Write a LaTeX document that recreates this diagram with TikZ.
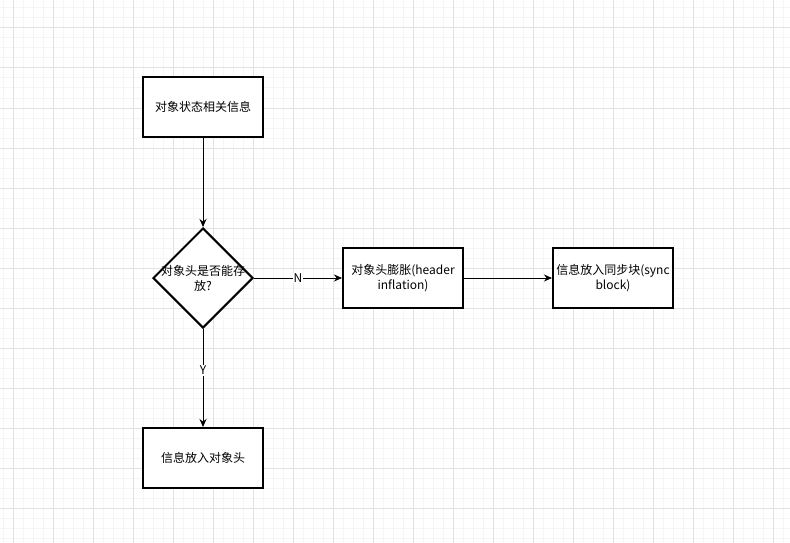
\documentclass[tikz,border=0pt]{standalone}
\usepackage{fontspec}
\setmainfont{Liberation Sans}
\newfontfamily\cjk{Noto Sans CJK SC}
\usetikzlibrary{shapes.geometric,arrows.meta}
\definecolor{gridminor}{HTML}{F5F5F5}
\definecolor{gridmajor}{HTML}{E2E2E2}
\tikzset{
  box/.style={draw=black, line width=2pt, fill=white, minimum width=120pt, minimum height=60pt, inner sep=2pt, align=center, font=\fontsize{12}{15}\selectfont\cjk, text width=116pt},
  decision/.style={draw=black, line width=2pt, fill=white, diamond, minimum width=100pt, minimum height=100pt, inner sep=0pt},
  dectext/.style={align=center, font=\fontsize{12}{15}\selectfont\cjk, inner sep=0pt},
  conn/.style={draw=black, line width=1pt, -{Stealth[length=8pt,width=7pt]}},
  lbl/.style={fill=white, inner sep=1pt, font=\fontsize{12}{14}\selectfont\cjk},
}
\begin{document}
\begin{tikzpicture}[x=1pt,y=-1pt]
\useasboundingbox (0,0) rectangle (790,543);
\fill[white] (0,0) rectangle (790,543);
\foreach \x in {3,13,...,783} \draw[gridminor, line width=1pt] (\x,0) -- (\x,543);
\foreach \y in {8,18,...,538} \draw[gridminor, line width=1pt] (0,\y) -- (790,\y);
\foreach \x in {13,53,...,773} \draw[gridmajor, line width=1pt] (\x,0) -- (\x,543);
\foreach \y in {28,68,...,508} \draw[gridmajor, line width=1pt] (0,\y) -- (790,\y);

\node[box] (state) at (203,107) {对象状态相关信息};
\node[decision] (dec) at (203,278) {};
\node[dectext] (dect) at (dec.center) {对象头是否能存\\放?};
\node[box] (infl) at (403,278) {对象头膨胀(header\\inflation)};
\node[box] (sync) at (613,278) {信息放入同步块(sync\\block)};
\node[box] (hdr) at (203,458) {信息放入对象头};

\draw[conn] (state) -- (dec);
\draw[conn] (dec) -- node[lbl] (n) {N} (infl);
\draw[conn] (infl) -- (sync);
\draw[conn] (dec) -- node[lbl, pos=0.42] (y) {Y} (hdr);
\end{tikzpicture}
\end{document}
